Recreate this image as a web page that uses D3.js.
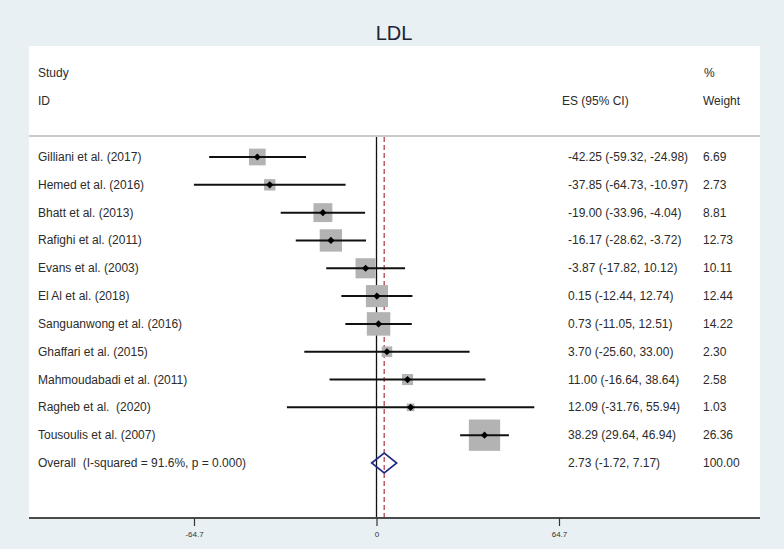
<!DOCTYPE html>
<html>
<head>
<meta charset="utf-8">
<script src="https://cdn.jsdelivr.net/npm/d3@7"></script>
<style>
  html, body { margin: 0; padding: 0; background: #e8f0f3; }
  svg { display: block; font-family: Arial, 'Liberation Sans', sans-serif; }
  .lbl { font-size: 12px; fill: #2b2b2b; }
  .tick text { font-family: 'Liberation Sans Narrow', 'Arial Narrow', sans-serif; font-size: 8px; fill: #333; }
</style>
</head>
<body>
<svg id="chart" width="784" height="549"></svg>
<script>
// DATA
const studies = [
  'Gilliani et al. (2017)',
  'Hemed et al. (2016)',
  'Bhatt et al. (2013)',
  'Rafighi et al. (2011)',
  'Evans et al. (2003)',
  'El Al et al. (2018)',
  'Sanguanwong et al. (2016)',
  'Ghaffari et al. (2015)',
  'Mahmoudabadi et al. (2011)',
  'Ragheb et al.  (2020)',
  'Tousoulis et al. (2007)'
];
const es = [-42.25, -37.85, -19.00, -16.17, -3.87, 0.15, 0.73, 3.70, 11.00, 12.09, 38.29];
const lower = [-59.32, -64.73, -33.96, -28.62, -17.82, -12.44, -11.05, -25.60, -16.64, -31.76, 29.64];
const upper = [-24.98, -10.97, -4.04, -3.72, 10.12, 12.74, 12.51, 33.00, 38.64, 55.94, 46.94];
const weights = [6.69, 2.73, 8.81, 12.73, 10.11, 12.44, 14.22, 2.30, 2.58, 1.03, 26.36];

const overallLabel = 'Overall  (I-squared = 91.6%, p = 0.000)';
const overall = { es: 2.73, lo: -1.72, hi: 7.17, w: 100.00 };

const tickValues = [-64.7, 0, 64.7];

// SETUP
const svg = d3.select('svg');
const plot = { left: 29, right: 760, top: 46, axisY: 518, ruleY: 136 };

const x = d3.scaleLinear().domain([-64.7, 64.7]).range([194, 559]);
const y = d3.scalePoint().domain([...studies, overallLabel]).range([157, 463]);
const boxSize = d3.scaleLinear().domain([0, Math.sqrt(d3.max(weights))]).range([1.9, 31.3]);
const fmt = v => v.toFixed(2); // plain hyphen minus, like the original

// plot panel
svg.append('rect')
  .attr('x', plot.left).attr('y', plot.top)
  .attr('width', plot.right - plot.left).attr('height', plot.axisY - plot.top)
  .attr('fill', '#fff');

// title
svg.append('text')
  .attr('x', 394).attr('y', 40)
  .attr('text-anchor', 'middle')
  .style('font-size', '20px').style('fill', '#1e2233')
  .text('LDL');

// headers
const hdr = [
  ['Study', 38, 77], ['ID', 38, 105], ['ES (95% CI)', 562, 105],
  ['%', 704, 77], ['Weight', 703, 105]
];
svg.selectAll('.hdr').data(hdr).enter().append('text')
  .attr('class', 'lbl hdr')
  .attr('x', d => d[1]).attr('y', d => d[2])
  .text(d => d[0]);

// rule under header
svg.append('line')
  .attr('x1', plot.left).attr('x2', plot.right)
  .attr('y1', plot.ruleY).attr('y2', plot.ruleY)
  .attr('stroke', '#c9c9c9').attr('stroke-width', 2);

// reference lines
svg.append('line')
  .attr('x1', x(0)).attr('x2', x(0))
  .attr('y1', plot.ruleY + 1).attr('y2', plot.axisY)
  .attr('stroke', '#111').attr('stroke-width', 1.3);
svg.append('line')
  .attr('x1', x(overall.es)).attr('x2', x(overall.es))
  .attr('y1', plot.ruleY + 1).attr('y2', plot.axisY)
  .attr('stroke', '#b4424c').attr('stroke-width', 1.3)
  .attr('stroke-dasharray', '5,3');

// study rows
const rows = studies.map((s, i) => ({ s, es: es[i], lo: lower[i], hi: upper[i], w: weights[i] }));

const g = svg.append('g');
g.selectAll('.box').data(rows).enter().append('rect')
  .attr('class', 'box')
  .attr('x', d => x(d.es) - boxSize(Math.sqrt(d.w)) / 2)
  .attr('y', d => y(d.s) - boxSize(Math.sqrt(d.w)) / 2)
  .attr('width', d => boxSize(Math.sqrt(d.w)))
  .attr('height', d => boxSize(Math.sqrt(d.w)))
  .attr('fill', '#b3b3b3');

g.selectAll('.ci').data(rows).enter().append('line')
  .attr('class', 'ci')
  .attr('x1', d => x(d.lo)).attr('x2', d => x(d.hi))
  .attr('y1', d => y(d.s)).attr('y2', d => y(d.s))
  .attr('stroke', '#111').attr('stroke-width', 2);

g.selectAll('.pt').data(rows).enter().append('path')
  .attr('class', 'pt')
  .attr('d', d => {
    const cx = x(d.es), cy = y(d.s), r = 3.6;
    return `M${cx},${cy - r}L${cx + r},${cy}L${cx},${cy + r}L${cx - r},${cy}Z`;
  })
  .attr('fill', '#000');

// overall diamond
const dh = 10;
svg.append('path')
  .attr('d', `M${x(overall.lo)},${y(overallLabel)}L${x(overall.es)},${y(overallLabel) - dh}` +
    `L${x(overall.hi)},${y(overallLabel)}L${x(overall.es)},${y(overallLabel) + dh}Z`)
  .attr('fill', 'none')
  .attr('stroke', '#1f2a80').attr('stroke-width', 1.6);

// row texts
const textRows = rows.concat([{ s: overallLabel, es: overall.es, lo: overall.lo, hi: overall.hi, w: overall.w }]);
const tr = svg.selectAll('.row').data(textRows).enter().append('g')
  .attr('class', 'row')
  .attr('transform', d => `translate(0,${y(d.s) + 4})`);
tr.append('text').attr('class', 'lbl').attr('x', 38).attr('xml:space', 'preserve').text(d => d.s);
tr.append('text').attr('class', 'lbl').attr('x', 568)
  .text(d => `${fmt(d.es)} (${fmt(d.lo)}, ${fmt(d.hi)})`);
tr.append('text').attr('class', 'lbl').attr('x', 703).text(d => fmt(d.w));

// x axis
svg.append('line')
  .attr('x1', plot.left).attr('x2', plot.right)
  .attr('y1', plot.axisY).attr('y2', plot.axisY)
  .attr('stroke', '#4a4a4a').attr('stroke-width', 2);
const axis = svg.append('g')
  .attr('transform', `translate(0,${plot.axisY})`)
  .call(d3.axisBottom(x).tickValues(tickValues).tickSize(8).tickPadding(5).tickFormat(d => String(d)));
axis.select('.domain').remove();
axis.selectAll('.tick line').attr('stroke', '#333').attr('stroke-width', 1.2);
</script>
</body>
</html>
